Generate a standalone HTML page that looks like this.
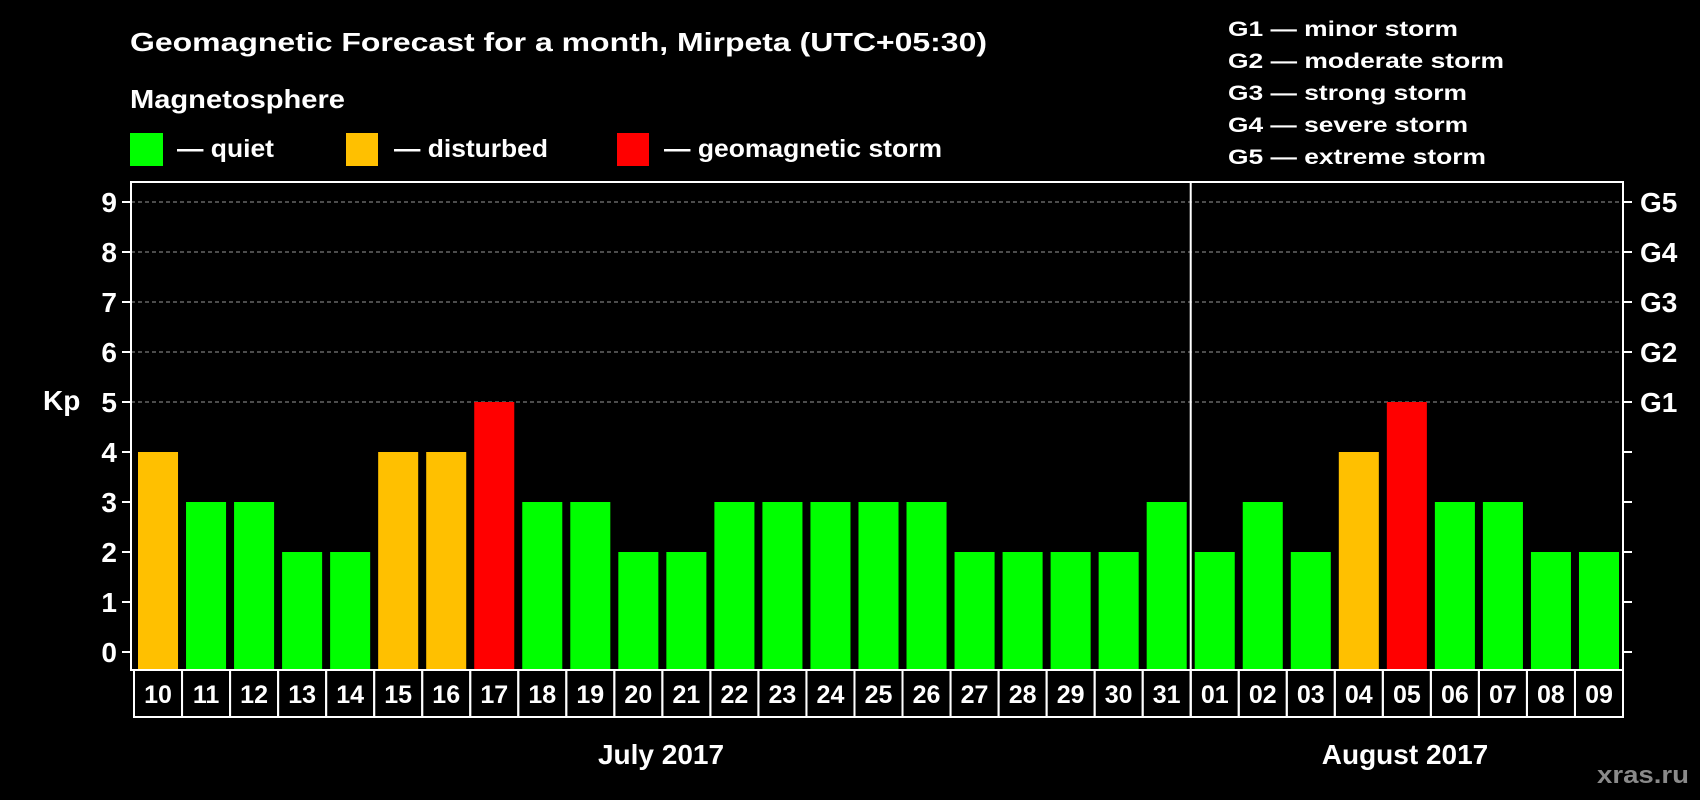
<!DOCTYPE html>
<html><head><meta charset="utf-8"><style>
html,body{margin:0;padding:0;background:#000;}
svg{display:block;font-family:"Liberation Sans",sans-serif;font-weight:bold;}
</style></head><body>
<svg id="chart" width="1700" height="800" viewBox="0 0 1700 800">
<text x="130" y="51" fill="#fff" font-size="26" textLength="857" lengthAdjust="spacingAndGlyphs">Geomagnetic Forecast for a month, Mirpeta (UTC+05:30)</text>
<text x="130" y="108" fill="#fff" font-size="26" textLength="215" lengthAdjust="spacingAndGlyphs">Magnetosphere</text>
<g><rect x="130" y="133" width="33" height="33" fill="#00ff00"/><text x="177" y="157" fill="#fff" font-size="25" textLength="97" lengthAdjust="spacingAndGlyphs">— quiet</text></g>
<g><rect x="346" y="133" width="32" height="33" fill="#ffc000"/><text x="394" y="157" fill="#fff" font-size="25" textLength="154" lengthAdjust="spacingAndGlyphs">— disturbed</text></g>
<g><rect x="617" y="133" width="32" height="33" fill="#ff0000"/><text x="664" y="157" fill="#fff" font-size="25" textLength="278" lengthAdjust="spacingAndGlyphs">— geomagnetic storm</text></g>
<g fill="#fff" font-size="21">
<text x="1228" y="36" textLength="230" lengthAdjust="spacingAndGlyphs">G1 — minor storm</text>
<text x="1228" y="68" textLength="276" lengthAdjust="spacingAndGlyphs">G2 — moderate storm</text>
<text x="1228" y="100" textLength="239" lengthAdjust="spacingAndGlyphs">G3 — strong storm</text>
<text x="1228" y="132" textLength="240" lengthAdjust="spacingAndGlyphs">G4 — severe storm</text>
<text x="1228" y="164" textLength="258" lengthAdjust="spacingAndGlyphs">G5 — extreme storm</text>
</g>
<text x="43" y="410" fill="#fff" font-size="28">Kp</text>
<g id="grid"></g>
<g id="bars"></g>
<g id="axes"></g>
<text x="661" y="764" fill="#fff" font-size="28" text-anchor="middle">July 2017</text>
<text x="1405" y="764" fill="#fff" font-size="28" text-anchor="middle">August 2017</text>
<text x="1689" y="783" fill="#8a8a8a" font-size="24" text-anchor="end" textLength="92" lengthAdjust="spacingAndGlyphs">xras.ru</text>
</svg>
<script>
const days = ["10","11","12","13","14","15","16","17","18","19","20","21","22","23","24","25","26","27","28","29","30","31","01","02","03","04","05","06","07","08","09"];
const kp = [4,3,3,2,2,4,4,5,3,3,2,2,3,3,3,3,3,2,2,2,2,3,2,3,2,4,5,3,3,2,2];
const yTicks = [0,1,2,3,4,5,6,7,8,9];
const gLabels = ["G1","G2","G3","G4","G5"];
const monthSplitIndex = 22;

const NS="http://www.w3.org/2000/svg";
const fL=131,fR=1623,fT=182,fB=670;
const cellL=134,cellR=1623;
const n=days.length;
const cw=(cellR-cellL)/n;
const y=v=>652-v*(652-202)/9;
const x=i=>cellL+i*cw;
function mk(t,a,p){const e=document.createElementNS(NS,t);for(const k in a)e.setAttribute(k,a[k]);p.appendChild(e);return e;}
const grid=document.getElementById('grid'),bars=document.getElementById('bars'),axes=document.getElementById('axes');
const fr=mk('rect',{x:fL,y:fT,width:fR-fL,height:fB-fT,fill:'none',stroke:'#fff','stroke-width':2},axes);


yTicks.forEach(v=>{
  if(v>=5){const g=mk('line',{x1:fL,x2:fR,y1:y(v),y2:y(v),stroke:'#999','stroke-width':1,'stroke-dasharray':'4 3'},grid);
  
  }
  const t=mk('line',{x1:fL-9,x2:fL,y1:y(v),y2:y(v),stroke:'#fff','stroke-width':2},axes);
  
  
  const t2=mk('line',{x1:fR,x2:fR+9,y1:y(v),y2:y(v),stroke:'#fff','stroke-width':2},axes);
  
  
  const l=mk('text',{x:117,y:y(v)+10,fill:'#fff','font-size':28,'text-anchor':'end'},axes);l.textContent=v;
  
  
});
gLabels.forEach((g,i)=>{
  const l=mk('text',{x:1640,y:y(5+i)+10,fill:'#fff','font-size':28},axes);l.textContent=g;
  
  
});
const col=v=>v>=5?'#ff0000':(v>=4?'#ffc000':'#00ff00');
kp.forEach((v,i)=>{
  const b=mk('rect',{x:x(i)+4,y:y(v),width:cw-8,height:fB-1-y(v),fill:col(v)},bars);
  
  
  const c=mk('rect',{x:x(i),y:fB,width:cw,height:47,fill:'none',stroke:'#fff','stroke-width':2},axes);
  
  
  const t=mk('text',{x:x(i)+cw/2,y:fB+33,fill:'#fff','font-size':25,'text-anchor':'middle'},axes);t.textContent=days[i];
  
  
});
const dv=mk('line',{x1:x(monthSplitIndex),x2:x(monthSplitIndex),y1:fT,y2:fB+47,stroke:'#fff','stroke-width':2},axes);


</script>
</body></html>
